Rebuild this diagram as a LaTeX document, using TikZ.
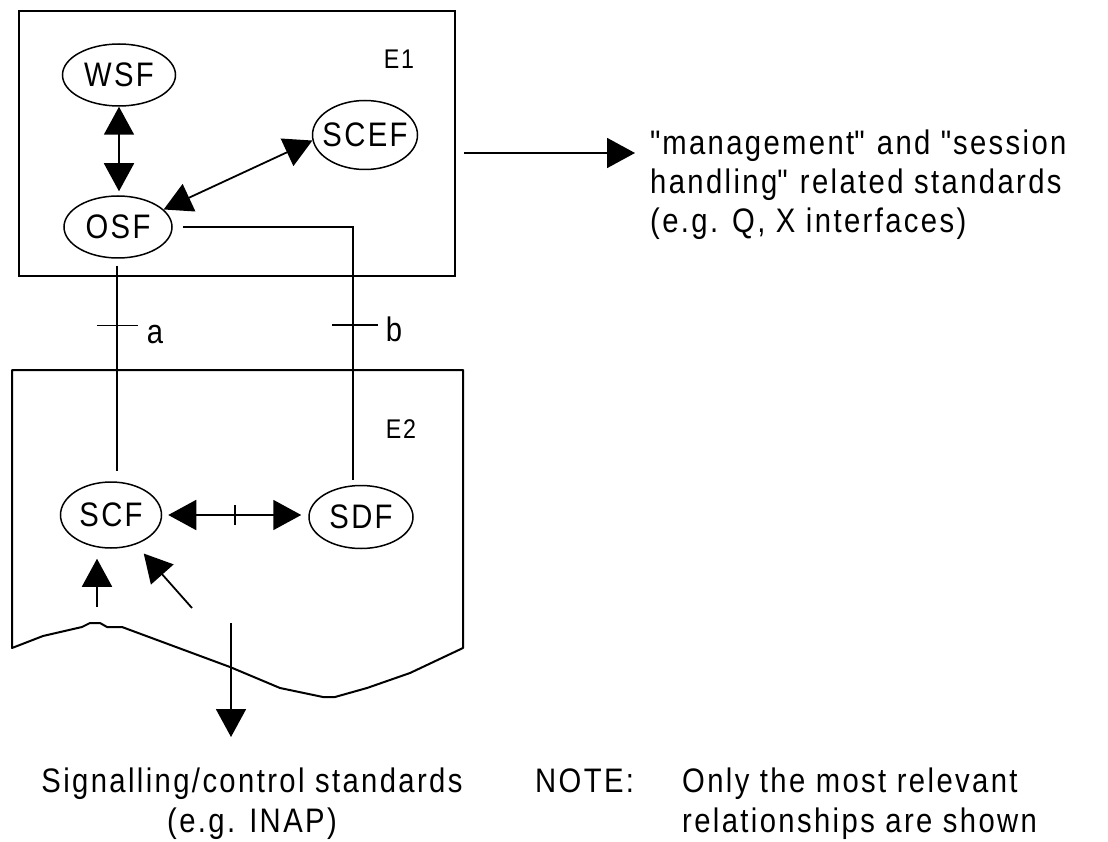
\documentclass[tikz,border=0pt]{standalone}
\usepackage{fontspec}
\setmainfont{Liberation Sans}[FakeStretch=0.86, LetterSpace=7]
\usetikzlibrary{arrows.meta,calc,shapes.geometric}
\newcommand{\dq}{\textquotedbl}
\begin{document}
\begin{tikzpicture}[
  x=1pt, y=-1pt,
  fn/.style={draw, ellipse, line width=1.5pt, inner sep=0pt,
             font=\fontsize{34}{40}\selectfont},
  box/.style={draw, line width=2pt, inner sep=0pt},
  link/.style={line width=1.8pt},
  head/.style={-{Triangle[length=28pt,width=30pt]}},
  heads/.style={{Triangle[length=28pt,width=30pt]}-{Triangle[length=28pt,width=30pt]}},
  txt/.style={inner sep=0pt, font=\fontsize{34}{40}\selectfont},
  sidetxt/.style={inner sep=0pt, font=\fontsize{34}{39}\selectfont},
  elabel/.style={inner sep=0pt, font=\fontsize{27}{30}\selectfont},
]
\useasboundingbox (0,0) rectangle (1108,842);

% entity E1 and its functions
\node[box, minimum width=436pt, minimum height=265pt] (E1) at (237,143.5) {};
\node[elabel] (E1lbl) at (399,59) {E1};
\node[fn, minimum width=113pt, minimum height=62pt] (WSF) at (119,75) {\makebox[0pt]{WSF}};
\node[fn, minimum width=105pt, minimum height=69pt] (SCEF) at (365,135) {\makebox[0pt]{SCEF}};
\node[fn, minimum width=108pt, minimum height=62pt] (OSF) at (118,227) {\makebox[0pt]{OSF}};

% entity E2 with its torn lower edge
\draw[line width=2pt, line join=round]
  (12,648) -- (12,370) -- (463,370) -- (463,648) -- (410,673) -- (367,688)
  -- (335,697) -- (323,697) -- (280,688) -- (230,667) -- (122,627)
  -- (107,627) -- (100,623) -- (90,623) -- (82,627) -- (43,636) -- cycle;
\node[elabel] (E2lbl) at (401,429) {E2};
\node[fn, minimum width=101pt, minimum height=66pt] (SCF) at (111,515) {\makebox[0pt]{SCF}};
\node[fn, minimum width=104pt, minimum height=63pt] (SDF) at (361,517) {\makebox[0pt]{SDF}};

% relationships inside E1
\draw[link, heads, shorten >=4pt] (WSF.south) -- (WSF.south |- OSF.north);
\draw[link, heads] (OSF.21) -- (SCEF.186);

% reference point a
\draw[link, shorten <=7pt, shorten >=10pt] ([xshift=-1pt]OSF.south)
  -- ([xshift=-1pt]OSF.south |- SCF.north) coordinate[pos=0.3] (ta);
\draw[link] ([xshift=-20pt]ta) -- ([xshift=21pt]ta)
  node[txt, anchor=base west, xshift=8pt, yshift=-18pt] (alab) {a};

% reference point b
\draw[link, shorten <=10pt, shorten >=5pt] (OSF.east)
  -| ([xshift=-8pt]SDF.north) coordinate[pos=0.69] (tb);
\draw[link] ([xshift=-21pt]tb) -- ([xshift=25pt]tb)
  node[txt, anchor=base west, xshift=7pt, yshift=-17pt] (blab) {b};

% relationship inside E2
\draw[link, heads, shorten <=6pt, shorten >=7pt] (SCF.east)
  -- (SCF.east -| SDF.west) coordinate[midway] (tm);
\draw[link] ([yshift=10pt]tm) -- ([yshift=-10pt]tm);

% signalling inputs to SCF
\coordinate (u1) at (97,607);
\coordinate (u2) at (192,608);
\draw[link, head, shorten >=10pt] (u1) -- (u1 |- SCF.south);
\draw[link, head, shorten >=12pt] (u2) -- (SCF.-50);

% outputs towards standards
\coordinate (d0) at (231,623);
\coordinate (d1) at (231,737);
\draw[link, head] (d0) -- (d1);
\coordinate (m1) at (635,153);
\draw[link, head] ([xshift=8pt, yshift=-9.5pt]E1.east) -- (m1);

\node[sidetxt, align=left, anchor=north west] (mgmt) at (650,130)
  {\dq management\dq{} and \dq session\\handling\dq{} related standards\\(e.g. Q, X interfaces)};
\node[txt, align=center, anchor=north] (sig) at (252,768)
  {Signalling/control standards\\(e.g. INAP)};
\node[txt, anchor=north west] (note) at (535,768.5) {NOTE:};
\node[txt, align=left, anchor=north west] (notetxt) at (682,768)
  {Only the most relevant\\relationships are shown};
\end{tikzpicture}
\end{document}
